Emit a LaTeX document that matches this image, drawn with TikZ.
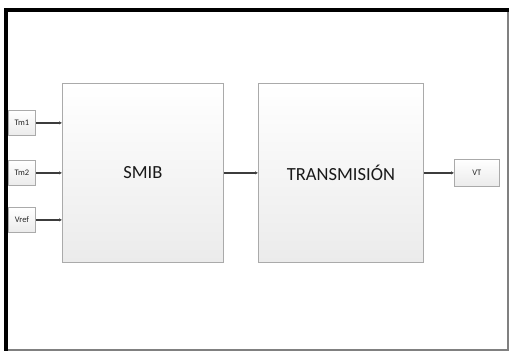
\documentclass[tikz,border=0pt]{standalone}
\usepackage{fontspec}
\setmainfont{Carlito}
\usetikzlibrary{arrows.meta,shadows}
\definecolor{boxborder}{HTML}{AAAAAA}
\definecolor{boxbottom}{HTML}{EBEBEB}
\definecolor{linecol}{HTML}{3C3C3C}
\tikzset{
  blockbox/.style={draw=boxborder, line width=0.9pt, top color=white, bottom color=boxbottom,
    inner sep=0pt, anchor=north west, font=\fontsize{18.5}{20}\selectfont, text=black!90},
  portbox/.style={draw=boxborder, line width=0.8pt, top color=white, bottom color=boxbottom,
    inner sep=0pt, anchor=north west, font=\fontsize{8.5}{9}\selectfont, text=black!85},
  wire/.style={draw=linecol, line width=1.3pt, -{Latex[length=3pt,width=3.5pt]}}
}
\begin{document}
\begin{tikzpicture}[x=1pt,y=-1pt]
\useasboundingbox (0,0) rectangle (509,351);
\fill[white] (0,0) rectangle (509,351);
% frame
\fill[black] (4,8) rectangle (509,12);
\fill[black] (4,8) rectangle (8,351);
\fill[gray] (507,12) rectangle (509,351);
\fill[gray] (8,349) rectangle (509,351);
% blocks
\node[blockbox, minimum width=161pt, minimum height=179pt] (smib) at (62,83) {SMIB};
\node[blockbox, minimum width=165pt, minimum height=179pt] (trans) at (258,83) {TRANSMISIÓN};
% ports
\node[portbox, minimum width=27pt, minimum height=25pt] (tm1) at (8,110) {Tm1};
\node[portbox, minimum width=27pt, minimum height=25pt] (tm2) at (8,160) {Tm2};
\node[portbox, minimum width=27pt, minimum height=25pt] (vref) at (8,207) {Vref};
\node[portbox, minimum width=45pt, minimum height=27pt] (vt) at (454,159) {VT};
% connectors
\coordinate (in1) at (smib.west |- tm1.east);
\coordinate (in2) at (smib.west |- tm2.east);
\coordinate (in3) at (smib.west |- vref.east);
\draw[wire] (tm1.east) -- (in1);
\draw[wire] (tm2.east) -- (in2);
\draw[wire] (vref.east) -- (in3);
\draw[wire] (smib.east |- tm2.east) -- (trans.west |- tm2.east);
\draw[wire] (trans.east |- vt.west) -- (vt.west);
\end{tikzpicture}
\end{document}
